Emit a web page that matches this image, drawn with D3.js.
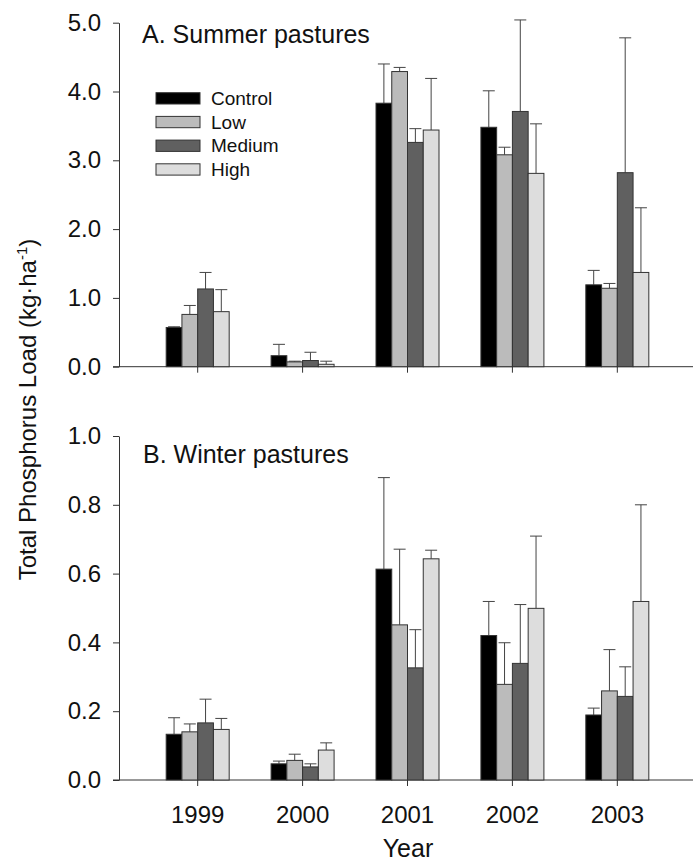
<!DOCTYPE html>
<html>
<head>
<meta charset="utf-8">
<script src="https://cdn.jsdelivr.net/npm/d3@7"></script>
<style>
  body { margin: 0; background: #fff; }
  text { font-family: "Liberation Sans", Arial, sans-serif; fill: #111; }
</style>
</head>
<body>
<div id="chart"></div>
<script>
const years = [1999, 2000, 2001, 2002, 2003];
const treatments = ["Control", "Low", "Medium", "High"];
const fills = ["#000000", "#bbbbbb", "#606060", "#dddddd"];

// summer pastures, rows = treatments, cols = years
const summerMean = [
  [0.57, 0.16, 3.83, 3.48, 1.19],
  [0.76, 0.07, 4.29, 3.08, 1.14],
  [1.13, 0.09, 3.26, 3.71, 2.82],
  [0.80, 0.035, 3.44, 2.81, 1.37]
];
const summerErr = [
  [0.01, 0.165, 0.57, 0.53, 0.21],
  [0.13, 0.01, 0.06, 0.11, 0.07],
  [0.24, 0.12, 0.20, 1.33, 1.96],
  [0.32, 0.045, 0.75, 0.72, 0.94]
];

// winter pastures
const winterMean = [
  [0.133, 0.047, 0.613, 0.420, 0.189],
  [0.140, 0.057, 0.451, 0.278, 0.259],
  [0.166, 0.038, 0.326, 0.339, 0.243],
  [0.147, 0.087, 0.643, 0.499, 0.519]
];
const winterErr = [
  [0.048, 0.008, 0.266, 0.099, 0.020],
  [0.023, 0.018, 0.220, 0.121, 0.120],
  [0.069, 0.009, 0.111, 0.171, 0.086],
  [0.032, 0.021, 0.025, 0.210, 0.281]
];

const summerTicks = [0, 1, 2, 3, 4, 5];
const winterTicks = [0, 0.2, 0.4, 0.6, 0.8, 1.0];

const width = 693, height = 867;
const axisX = 119, rightX = 693;

const svg = d3.select("#chart").append("svg")
    .attr("width", width)
    .attr("height", height);

const x = d3.scaleBand()
    .domain(years)
    .range([axisX, 696])
    .paddingInner(0)
    .paddingOuter(0.25);

const xInner = d3.scaleBand()
    .domain(treatments)
    .range([-31.5, 31.5]);

function panel(opts) {
  const y = d3.scaleLinear().domain(opts.domain).range([opts.bottom, opts.top]);
  const g = svg.append("g");

  // y axis
  const yAxis = d3.axisLeft(y)
      .tickValues(opts.ticks)
      .tickFormat(d3.format(".1f"))
      .tickSize(6)
      .tickSizeOuter(0)
      .tickPadding(12);
  const ya = g.append("g")
      .attr("transform", "translate(" + axisX + ",0)")
      .call(yAxis);
  ya.select(".domain").attr("stroke", "#333");
  ya.selectAll(".tick line").attr("stroke", "#333");
  ya.selectAll(".tick text")
      .attr("font-size", 24)
      .attr("font-family", "'Liberation Sans', Arial, sans-serif")
      .attr("fill", "#111");

  // x axis
  const xAxis = d3.axisBottom(x)
      .tickSize(6)
      .tickSizeOuter(0)
      .tickPadding(20)
      .tickFormat(opts.labels ? d3.format("d") : "");
  const xa = g.append("g")
      .attr("transform", "translate(0," + opts.bottom + ")")
      .call(xAxis);
  xa.select(".domain").remove();
  xa.selectAll(".tick line").attr("stroke", "#333");
  xa.selectAll(".tick text")
      .attr("font-size", 24)
      .attr("font-family", "'Liberation Sans', Arial, sans-serif")
      .attr("fill", "#111");
  g.append("line")
      .attr("x1", axisX - 6).attr("x2", rightX)
      .attr("y1", opts.bottom).attr("y2", opts.bottom)
      .attr("stroke", "#333");

  // bars
  const rows = [];
  treatments.forEach(function(t, i) {
    years.forEach(function(yr, j) {
      rows.push({ t: t, i: i, year: yr, mean: opts.mean[i][j], err: opts.err[i][j] });
    });
  });

  const bars = g.append("g").selectAll("g")
      .data(rows)
    .enter().append("g");

  bars.append("line")
      .attr("x1", function(d) { return x(d.year) + x.bandwidth() / 2 + xInner(d.t) + xInner.bandwidth() / 2; })
      .attr("x2", function(d) { return x(d.year) + x.bandwidth() / 2 + xInner(d.t) + xInner.bandwidth() / 2; })
      .attr("y1", function(d) { return y(d.mean); })
      .attr("y2", function(d) { return y(d.mean + d.err); })
      .attr("stroke", "#444");

  bars.append("line")
      .attr("x1", function(d) { return x(d.year) + x.bandwidth() / 2 + xInner(d.t) + xInner.bandwidth() / 2 - 6; })
      .attr("x2", function(d) { return x(d.year) + x.bandwidth() / 2 + xInner(d.t) + xInner.bandwidth() / 2 + 6; })
      .attr("y1", function(d) { return y(d.mean + d.err); })
      .attr("y2", function(d) { return y(d.mean + d.err); })
      .attr("stroke", "#444");

  bars.append("rect")
      .attr("x", function(d) { return x(d.year) + x.bandwidth() / 2 + xInner(d.t); })
      .attr("y", function(d) { return y(d.mean); })
      .attr("width", xInner.bandwidth())
      .attr("height", function(d) { return y(0) - y(d.mean); })
      .attr("fill", function(d) { return fills[d.i]; })
      .attr("stroke", "#333")
      .attr("stroke-width", 1);

  // redraw tick over bars like the original
  g.append("text")
      .attr("x", opts.titleX)
      .attr("y", opts.titleY)
      .attr("font-size", 25)
      .text(opts.title);

  return g;
}

panel({
  domain: [0, 5], top: 22.7, bottom: 366.7, ticks: summerTicks,
  mean: summerMean, err: summerErr, labels: false,
  title: "A. Summer pastures", titleX: 142, titleY: 42.7
});

panel({
  domain: [0, 1], top: 436, bottom: 780, ticks: winterTicks,
  mean: winterMean, err: winterErr, labels: true,
  title: "B. Winter pastures", titleX: 143, titleY: 463
});

// legend
const legend = svg.append("g").selectAll("g")
    .data(treatments)
  .enter().append("g")
    .attr("transform", function(d, i) { return "translate(156," + (98.3 + i * 23.7) + ")"; });

legend.append("rect")
    .attr("x", 0).attr("y", -5.6)
    .attr("width", 44).attr("height", 11.3)
    .attr("fill", function(d, i) { return fills[i]; })
    .attr("stroke", "#333");

legend.append("text")
    .attr("x", 55)
    .attr("y", 6.6)
    .attr("font-size", 19)
    .text(function(d) { return d; });

// axis titles
const ylab = svg.append("text")
    .attr("transform", "translate(36,409.5) rotate(-90)")
    .attr("text-anchor", "middle")
    .attr("font-size", 24);
ylab.append("tspan").text("Total Phosphorus Load (kg\u00b7ha");
ylab.append("tspan").attr("font-size", 15).attr("dy", -9).text("-1");
ylab.append("tspan").attr("dy", 9).text(")");

svg.append("text")
    .attr("x", 408)
    .attr("y", 857)
    .attr("text-anchor", "middle")
    .attr("font-size", 25)
    .text("Year");
</script>
</body>
</html>
